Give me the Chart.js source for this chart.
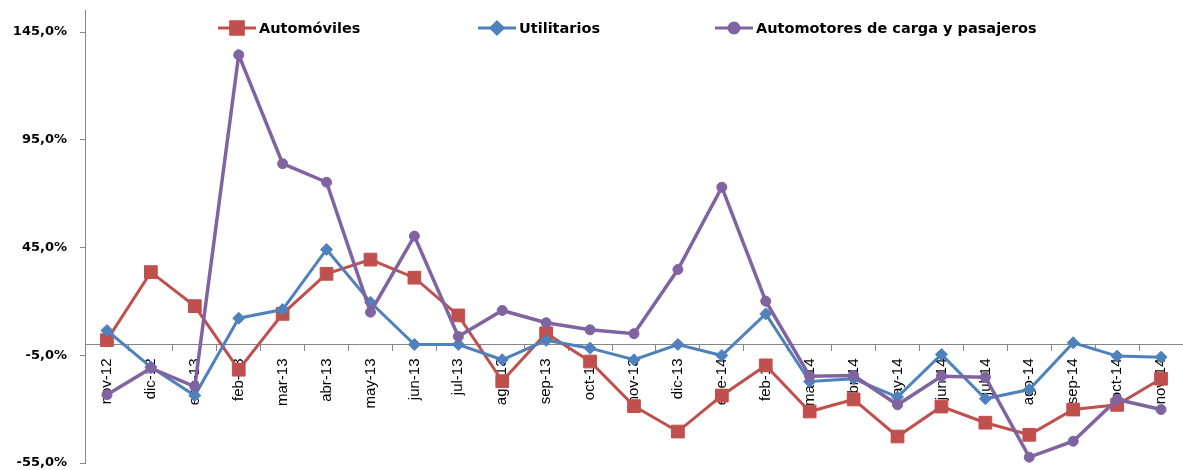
<!DOCTYPE html>
<html>
<head>
<meta charset="utf-8">
<script src="https://cdn.jsdelivr.net/npm/chart.js@4"></script>
<style>
  html, body { margin: 0; padding: 0; background: #fff; }
  #wrap { width: 1183px; height: 470px; }
</style>
</head>
<body>
<div id="wrap"><canvas id="chart"></canvas></div>
<script>
// months
const months = ['nov-12','dic-12','ene-13','feb-13','mar-13','abr-13','may-13','jun-13','jul-13','ago-13','sep-13','oct-13',
    'nov-13','dic-13','ene-14','feb-14','mar-14','abr-14','may-14','jun-14','jul-14','ago-14','sep-14','oct-14','nov-14'];

// variation in %
const automoviles = [2, 33.6, 17.8, -11.7, 14.2, 32.8, 39.4, 31, 13.5, -17, 5.2, -7.9,
    -28.6, -40.4, -23.7, -9.7, -31.1, -25.5, -42.7, -28.8, -36.3, -41.9, -30.2, -28, -15.9];
const utilitarios = [6.5, -10.5, -23.7, 12.2, 16.2, 44.1, 19.6, 0, 0, -7.1, 1.9, -1.7,
    -7.1, 0, -5.1, 14.2, -17.2, -15.9, -24.4, -4.6, -25.2, -20.9, 0.8, -5.4, -5.9];
const automotores = [-23.3, -11, -19.5, 134.4, 83.9, 75.3, 15, 50.3, 3.7, 15.8, 10.1, 6.8,
    5, 34.8, 73, 20.1, -14.7, -14.4, -28, -14.7, -15.2, -52.3, -44.9, -25.5, -30.2];

const yTicks = [-55, -5, 45, 95, 145];

const RED = '#C0504D', BLUE = '#4F81BD', PURPLE = '#8064A2';

// legend drawn like excel: line + marker + bold text
const excelLegend = {
    id: 'excelLegend',
    afterDraw(chart) {
        const ctx = chart.ctx;
        const spots = [218, 478, 715];
        const y = 28;
        ctx.save();
        chart.data.datasets.forEach((ds, i) => {
            const x0 = spots[i];
            ctx.strokeStyle = ds.borderColor;
            ctx.lineWidth = 3;
            ctx.beginPath();
            ctx.moveTo(x0, y);
            ctx.lineTo(x0 + 38, y);
            ctx.stroke();
            Chart.helpers.drawPoint(ctx, {
                pointStyle: ds.pointStyle,
                radius: ds.pointRadius,
                borderWidth: 1
            }, x0 + 19, y);
            ctx.fillStyle = ds.borderColor;
            ctx.fill();
            ctx.fillStyle = '#000';
            ctx.font = 'bold 14.5px "DejaVu Sans"';
            ctx.textAlign = 'left';
            ctx.textBaseline = 'middle';
            ctx.fillText(ds.label, x0 + 41, y + 1);
        });
        ctx.restore();
    }
};

const chart = new Chart(document.getElementById('chart'), {
    type: 'line',
    data: {
        labels: months,
        datasets: [{
            label: 'Automóviles',
            data: automoviles,
            borderColor: RED,
            backgroundColor: RED,
            borderWidth: 3,
            pointStyle: 'rect',
            pointRadius: 9,
            pointBorderWidth: 1,
            order: 3
        }, {
            label: 'Utilitarios',
            data: utilitarios,
            borderColor: BLUE,
            backgroundColor: BLUE,
            borderWidth: 3,
            pointStyle: 'rectRot',
            pointRadius: 6,
            pointBorderWidth: 1,
            order: 2
        }, {
            label: 'Automotores de carga y pasajeros',
            data: automotores,
            borderColor: PURPLE,
            backgroundColor: PURPLE,
            borderWidth: 3.5,
            pointStyle: 'circle',
            pointRadius: 5,
            pointBorderWidth: 1,
            order: 1
        }]
    },
    options: {
        responsive: true,
        maintainAspectRatio: false,
        animation: false,
        layout: {
            autoPadding: false,
            padding: { top: 10.5, bottom: 7, left: 0, right: 0 }
        },
        plugins: {
            legend: { display: false },
            tooltip: { enabled: false }
        },
        scales: {
            x: {
                position: { y: 0 },
                offset: true,
                afterFit: scale => {
                    scale.paddingLeft = 0;
                    scale.paddingRight = 0;
                    scale.paddingTop = 0;
                    scale.paddingBottom = 0;
                },
                grid: {
                    offset: true,
                    drawOnChartArea: false,
                    drawTicks: true,
                    tickLength: 6,
                    tickColor: '#868686'
                },
                border: { color: '#868686', width: 1 },
                ticks: {
                    autoSkip: false,
                    minRotation: 90,
                    maxRotation: 90,
                    padding: 8,
                    color: '#000',
                    font: { family: '"Liberation Sans Narrow", "Liberation Sans", Arial', size: 15 }
                }
            },
            y: {
                min: -55,
                max: 155,
                afterBuildTicks: scale => {
                    scale.ticks = yTicks.map(v => ({ value: v }));
                },
                afterFit: scale => {
                    scale.width = 85;
                    scale.paddingTop = 0;
                    scale.paddingBottom = 0;
                },
                grid: {
                    drawOnChartArea: false,
                    drawTicks: true,
                    tickLength: 5,
                    tickColor: '#868686'
                },
                border: { color: '#868686', width: 1 },
                ticks: {
                    padding: 13,
                    color: '#000',
                    font: { family: '"DejaVu Sans"', size: 13, weight: 'bold' },
                    callback: v => v.toFixed(1).replace('.', ',') + '%'
                }
            }
        }
    },
    plugins: [excelLegend]
});
</script>
</body>
</html>
